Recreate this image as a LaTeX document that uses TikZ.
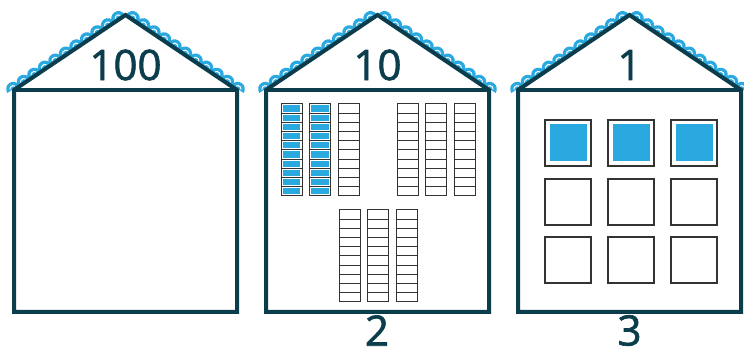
\documentclass[tikz,border=0pt]{standalone}
\usepackage{fontspec}
\setmainfont{Open Sans}
\newfontfamily\numfont{Open Sans}[FakeBold=1.6]
\usetikzlibrary{calc}
\definecolor{wall}{HTML}{0C3D4C}
\definecolor{tile}{HTML}{29A9E0}
\definecolor{cellline}{HTML}{333333}

\begin{document}
\begin{tikzpicture}[x=1pt, y=1pt,
  wall/.style={draw=wall, line width=4pt},
  num/.style={font=\numfont\fontsize{42}{42}\selectfont, text=wall, inner sep=0pt},
  cell/.style={draw=cellline, line width=1pt},
  unit/.style={draw=cellline, line width=1.8pt}
]
\useasboundingbox (0,0) rectangle (744,350);

% three houses with tiled roofs
\foreach \hx/\lab [count=\h] in {14/100, 266/10, 518/1}{
  \coordinate (bl\h) at (\hx,38);
  \coordinate (tl\h) at (\hx,260);
  \coordinate (tr\h) at ({\hx+223},260);
  \coordinate (br\h) at ({\hx+223},38);
  \coordinate (ap\h) at ({\hx+111.5},335);
  \foreach \i in {0,...,10}{
    \pgfmathsetmacro\t{\i/10.6}
    \coordinate (p) at ($(tl\h)!\t!(ap\h) + (123.9:1.2)$);
    \fill[tile] (p) ++(33.9:7.2) arc[start angle=33.9, end angle=213.9, radius=7.2] -- cycle;
    \draw[white, line width=1pt] (p) ++(58.9:3.4) arc[start angle=58.9, end angle=188.9, radius=3.4];
    \coordinate (q) at ($(tr\h)!\t!(ap\h) + (56.1:1.2)$);
    \fill[tile] (q) ++(-33.9:7.2) arc[start angle=-33.9, end angle=146.1, radius=7.2] -- cycle;
    \draw[white, line width=1pt] (q) ++(-8.9:3.4) arc[start angle=-8.9, end angle=121.1, radius=3.4];
  }
  \draw[wall] (bl\h) -- (tl\h) -- (ap\h) -- (tr\h) -- (br\h) -- cycle;
  \draw[wall] (tl\h) -- (tr\h);
  \node[num] (roof\h) at ({\hx+111.5},285) {\lab};
}

% rods of ten
\foreach \rx/\ry/\fl in {281/246/tile, 309.5/246/tile, 338/246/none, 397/246/none, 425.5/246/none, 454/246/none, 339/140/none, 367.5/140/none, 396/140/none}{
  \foreach \c in {0,...,9}{
    \draw[cell] ({\rx},{\ry-\c*9.2}) rectangle ++(21,-9.2);
    \path[fill=\fl] ({\rx+1.6},{\ry-\c*9.2-1.5}) rectangle ++(17.8,-6.2);
  }
}

% ones
\foreach \sx in {545,608,671}{
  \foreach \sy/\fl in {230/tile, 171/none, 113/none}{
    \draw[unit] (\sx,\sy) rectangle ++(46,-46);
    \path[fill=\fl] ({\sx+4.5},{\sy-4.5}) rectangle ++(37,-37);
  }
}

\node[num] (cnt2) at (377,19.5) {2};
\node[num] (cnt3) at (629.5,19.5) {3};
\end{tikzpicture}
\end{document}
